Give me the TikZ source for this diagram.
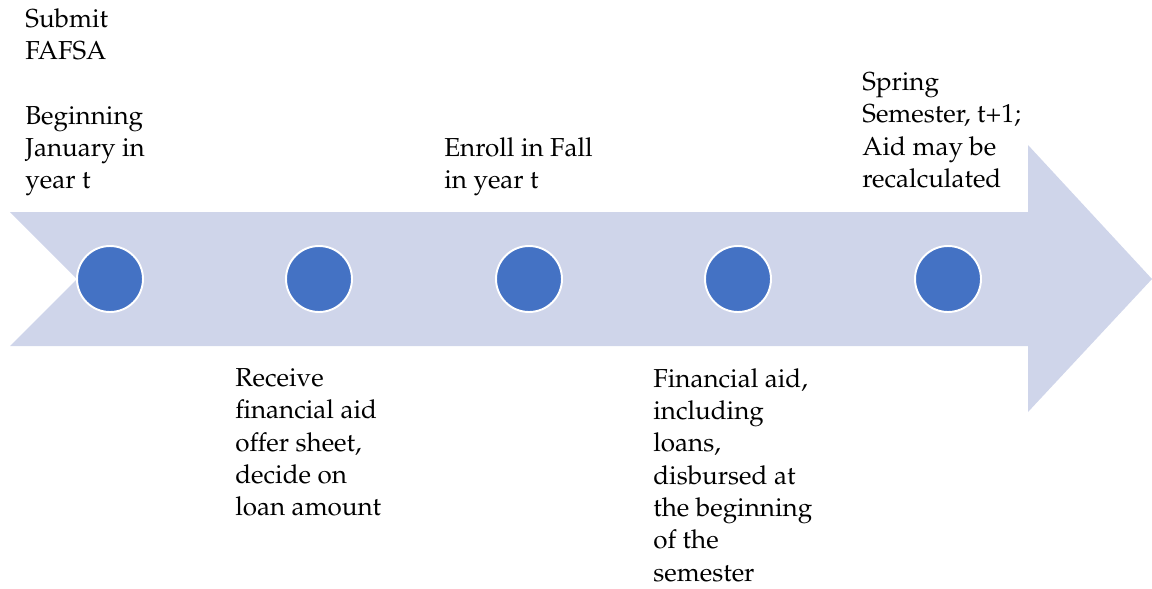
\documentclass[tikz,border=0pt]{standalone}
\usepackage[T1]{fontenc}
\usepackage{mathpazo}
\usepackage{tikz}
\usepackage{xcolor}
\usetikzlibrary{positioning}
\definecolor{bandfill}{RGB}{207,213,234}
\definecolor{dotblue}{RGB}{68,114,196}

\begin{document}
\begin{tikzpicture}[
    x=0.02cm, y=-0.02cm,
    dot/.style={circle,fill=dotblue,draw=white,line width=1.1pt,minimum size=1.32cm,inner sep=0pt},
    step label/.style={anchor=north west,inner sep=0pt,align=left,
      font=\fontsize{14.8pt}{18.4pt}\selectfont}
  ]
    \useasboundingbox (0,0) rectangle (1152,588);

    % the band with its notch and head
    \fill[bandfill] (10,212) -- (1028,212) -- (1028,145) -- (1152,279)
      -- (1028,412) -- (1028,346) -- (10,346) -- (77,279) -- cycle;

    \node[dot] (d1) at (110,279) {};
    \node[dot] (d2) at (319,279) {};
    \node[dot] (d3) at (529,279) {};
    \node[dot] (d4) at (738,279) {};
    \node[dot] (d5) at (948,279) {};

    \node[step label] (t1) at (25,8) {Submit\\FAFSA\\[18.4pt]Beginning\\January in\\year t};
    \node[step label] (t2) at (235,368) {Receive\\financial aid\\offer sheet,\\decide on\\loan amount};
    \node[step label] (t3) at (444,137) {Enroll in Fall\\in year t};
    \node[step label] (t4) at (653,368) {Financial aid,\\including\\loans,\\disbursed at\\the beginning\\of the\\semester};
    \node[step label] (t5) at (862,72) {Spring\\Semester, t+1;\\Aid may be\\recalculated};
  \end{tikzpicture}
\end{document}
